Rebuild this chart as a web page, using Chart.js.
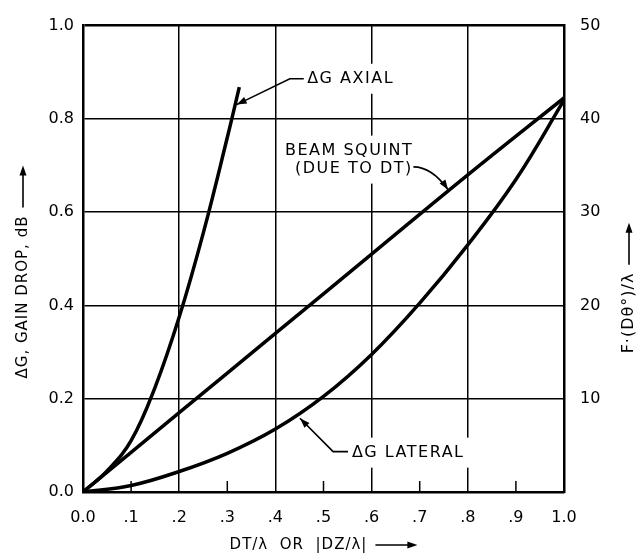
<!DOCTYPE html>
<html>
<head>
<meta charset="utf-8">
<script src="https://cdn.jsdelivr.net/npm/chart.js@4"></script>
<style>
  html, body { margin: 0; padding: 0; background: #fff; }
</style>
</head>
<body>
<canvas id="chart" width="639" height="557"></canvas>
<script>
// tick labels
const xTickLabels = ['0.0', '.1', '.2', '.3', '.4', '.5', '.6', '.7', '.8', '.9', '1.0'];
const yTickLabels = ['0.0', '0.2', '0.4', '0.6', '0.8', '1.0'];
const y2TickLabels = ['', '10', '20', '30', '40', '50'];

// curves (x = DT/λ or |DZ/λ|, y = gain drop dB)
const axialX = [0, 0.05, 0.1, 0.15, 0.2, 0.25, 0.3, 0.325];
const axialY = [0, 0.045, 0.11, 0.225, 0.375, 0.555, 0.76, 0.868];

const squintX = [0, 0.2, 0.4, 0.6, 0.8, 1.0];
const squintY = [0, 0.17, 0.34, 0.51, 0.68, 0.845];

const lateralX = [0, 0.1, 0.2, 0.3, 0.4, 0.5, 0.6, 0.7, 0.8, 0.9, 1.0];
const lateralY = [0, 0.014, 0.044, 0.083, 0.135, 0.205, 0.295, 0.405, 0.53, 0.67, 0.84];

const toPoints = (xs, ys) => xs.map((x, i) => ({ x: x, y: ys[i] }));

const FONT = '"DejaVu Sans", sans-serif';

function arrowHead(ctx, fx, fy, tx, ty, len, half) {
  const a = Math.atan2(ty - fy, tx - fx);
  ctx.beginPath();
  ctx.moveTo(tx, ty);
  ctx.lineTo(tx - len * Math.cos(a) + half * Math.sin(a), ty - len * Math.sin(a) - half * Math.cos(a));
  ctx.lineTo(tx - len * Math.cos(a) - half * Math.sin(a), ty - len * Math.sin(a) + half * Math.cos(a));
  ctx.closePath();
  ctx.fill();
}

// text followed by a long arrow, centred on (cx, cy), rotated by rot
function titleWithArrow(ctx, text, cx, cy, rot, size) {
  ctx.save();
  ctx.translate(cx, cy);
  ctx.rotate(rot);
  ctx.font = size + 'px ' + FONT;
  ctx.letterSpacing = '1px';
  ctx.textBaseline = 'middle';
  ctx.textAlign = 'left';
  const w = ctx.measureText(text).width;
  const arrow = 42, gap = 8;
  const start = -(w + gap + arrow) / 2;
  ctx.fillStyle = '#000';
  ctx.fillText(text, start, 0);
  const ax = start + w + gap;
  ctx.strokeStyle = '#000';
  ctx.lineWidth = 1.6;
  ctx.beginPath();
  ctx.moveTo(ax, 0);
  ctx.lineTo(ax + arrow - 4, 0);
  ctx.stroke();
  arrowHead(ctx, ax, 0, ax + arrow, 0, 10, 3.5);
  ctx.restore();
}

const annotations = {
  id: 'annotations',
  beforeDatasetsDraw(chart) {
    const { ctx, chartArea, scales: { x, y } } = chart;
    const px = v => x.getPixelForValue(v);
    const py = v => y.getPixelForValue(v);
    ctx.save();

    // short minor ticks at the odd tenths
    ctx.strokeStyle = '#000';
    ctx.lineWidth = 1.5;
    [0.1, 0.3, 0.5, 0.7, 0.9].forEach(v => {
      ctx.beginPath();
      ctx.moveTo(px(v), chartArea.bottom);
      ctx.lineTo(px(v), chartArea.bottom - 11);
      ctx.stroke();
    });

    ctx.font = '16px ' + FONT;
    ctx.letterSpacing = '1.5px';
    ctx.textBaseline = 'middle';
    ctx.textAlign = 'left';

    const label = (lines, vx, vy, dy) => {
      let w = 0;
      lines.forEach(l => { w = Math.max(w, ctx.measureText(l.t).width + l.dx); });
      const x0 = px(vx), y0 = py(vy);
      ctx.fillStyle = '#fff';
      ctx.fillRect(x0 - 5, y0 - 15, w + 10, dy * (lines.length - 1) + 30);
      ctx.fillStyle = '#000';
      lines.forEach((l, i) => ctx.fillText(l.t, x0 + l.dx, y0 + i * dy));
    };

    label([{ t: 'ΔG AXIAL', dx: 0 }], 0.466, 0.886, 0);
    label([{ t: 'BEAM SQUINT', dx: 0 }, { t: '(DUE TO DT)', dx: 10 }], 0.42, 0.732, 18);
    label([{ t: 'ΔG LATERAL', dx: 0 }], 0.559, 0.0844, 0);

    // leaders
    ctx.strokeStyle = '#000';
    ctx.fillStyle = '#000';
    ctx.lineWidth = 1.6;

    ctx.beginPath();
    ctx.moveTo(px(0.459), py(0.886));
    ctx.lineTo(px(0.43), py(0.886));
    ctx.lineTo(px(0.3195), py(0.8306));
    ctx.stroke();
    arrowHead(ctx, px(0.43), py(0.886), px(0.3195), py(0.8306), 10, 3.5);

    ctx.beginPath();
    ctx.moveTo(px(0.687), py(0.697));
    ctx.quadraticCurveTo(px(0.725), py(0.697), px(0.759), py(0.648));
    ctx.stroke();
    arrowHead(ctx, px(0.735), py(0.685), px(0.759), py(0.648), 10, 3.5);

    ctx.beginPath();
    ctx.moveTo(px(0.551), py(0.0865));
    ctx.lineTo(px(0.52), py(0.0865));
    ctx.lineTo(px(0.451), py(0.158));
    ctx.stroke();
    arrowHead(ctx, px(0.52), py(0.0865), px(0.451), py(0.158), 10, 3.5);

    ctx.restore();
  },
  afterDraw(chart) {
    const { ctx, chartArea } = chart;
    const cx = (chartArea.left + chartArea.right) / 2;
    titleWithArrow(ctx, 'ΔG, GAIN DROP, dB', 23, 272, -Math.PI / 2, 15);
    titleWithArrow(ctx, 'F·(Dθ°)/λ', 629, 288, -Math.PI / 2, 16);
    titleWithArrow(ctx, 'DT/λ  OR  |DZ/λ|', cx, 545, 0, 15);
  }
};

Chart.defaults.font.family = FONT;
Chart.defaults.font.size = 16;
Chart.defaults.color = '#000';

new Chart(document.getElementById('chart'), {
  type: 'line',
  data: {
    datasets: [
      { label: 'ΔG AXIAL', data: toPoints(axialX, axialY) },
      { label: 'BEAM SQUINT', data: toPoints(squintX, squintY) },
      { label: 'ΔG LATERAL', data: toPoints(lateralX, lateralY) }
    ]
  },
  options: {
    responsive: false,
    animation: false,
    devicePixelRatio: 1,
    layout: { padding: { top: 18, left: 0, right: 0, bottom: 0 } },
    elements: {
      line: { borderColor: '#000', borderWidth: 3.5, tension: 0.4, fill: false },
      point: { radius: 0 }
    },
    plugins: { legend: { display: false }, tooltip: { enabled: false } },
    scales: {
      x: {
        type: 'linear', min: 0, max: 1,
        ticks: { stepSize: 0.1, padding: 16, maxRotation: 0, autoSkip: false, callback: (v, i) => xTickLabels[i] },
        grid: { color: c => (c.index % 2 === 0 ? '#000' : 'rgba(0,0,0,0)'), lineWidth: 1.5, drawTicks: false },
        border: { color: '#000', width: 2.5 },
        afterFit: s => { s.height = 65; }
      },
      y: {
        min: 0, max: 1,
        ticks: { stepSize: 0.2, padding: 9, callback: (v, i) => yTickLabels[i] },
        grid: { color: '#000', lineWidth: c => (c.index === 5 ? 2.5 : 1.5), drawTicks: false },
        border: { color: '#000', width: 2.5 },
        afterFit: s => { s.width = 83; }
      },
      y2: {
        position: 'right', min: 0, max: 50,
        ticks: { stepSize: 10, padding: 16, callback: (v, i) => y2TickLabels[i] },
        grid: { display: false, drawTicks: false },
        border: { color: '#000', width: 2.5 },
        afterFit: s => { s.width = 75; }
      }
    }
  },
  plugins: [annotations]
});
</script>
</body>
</html>
